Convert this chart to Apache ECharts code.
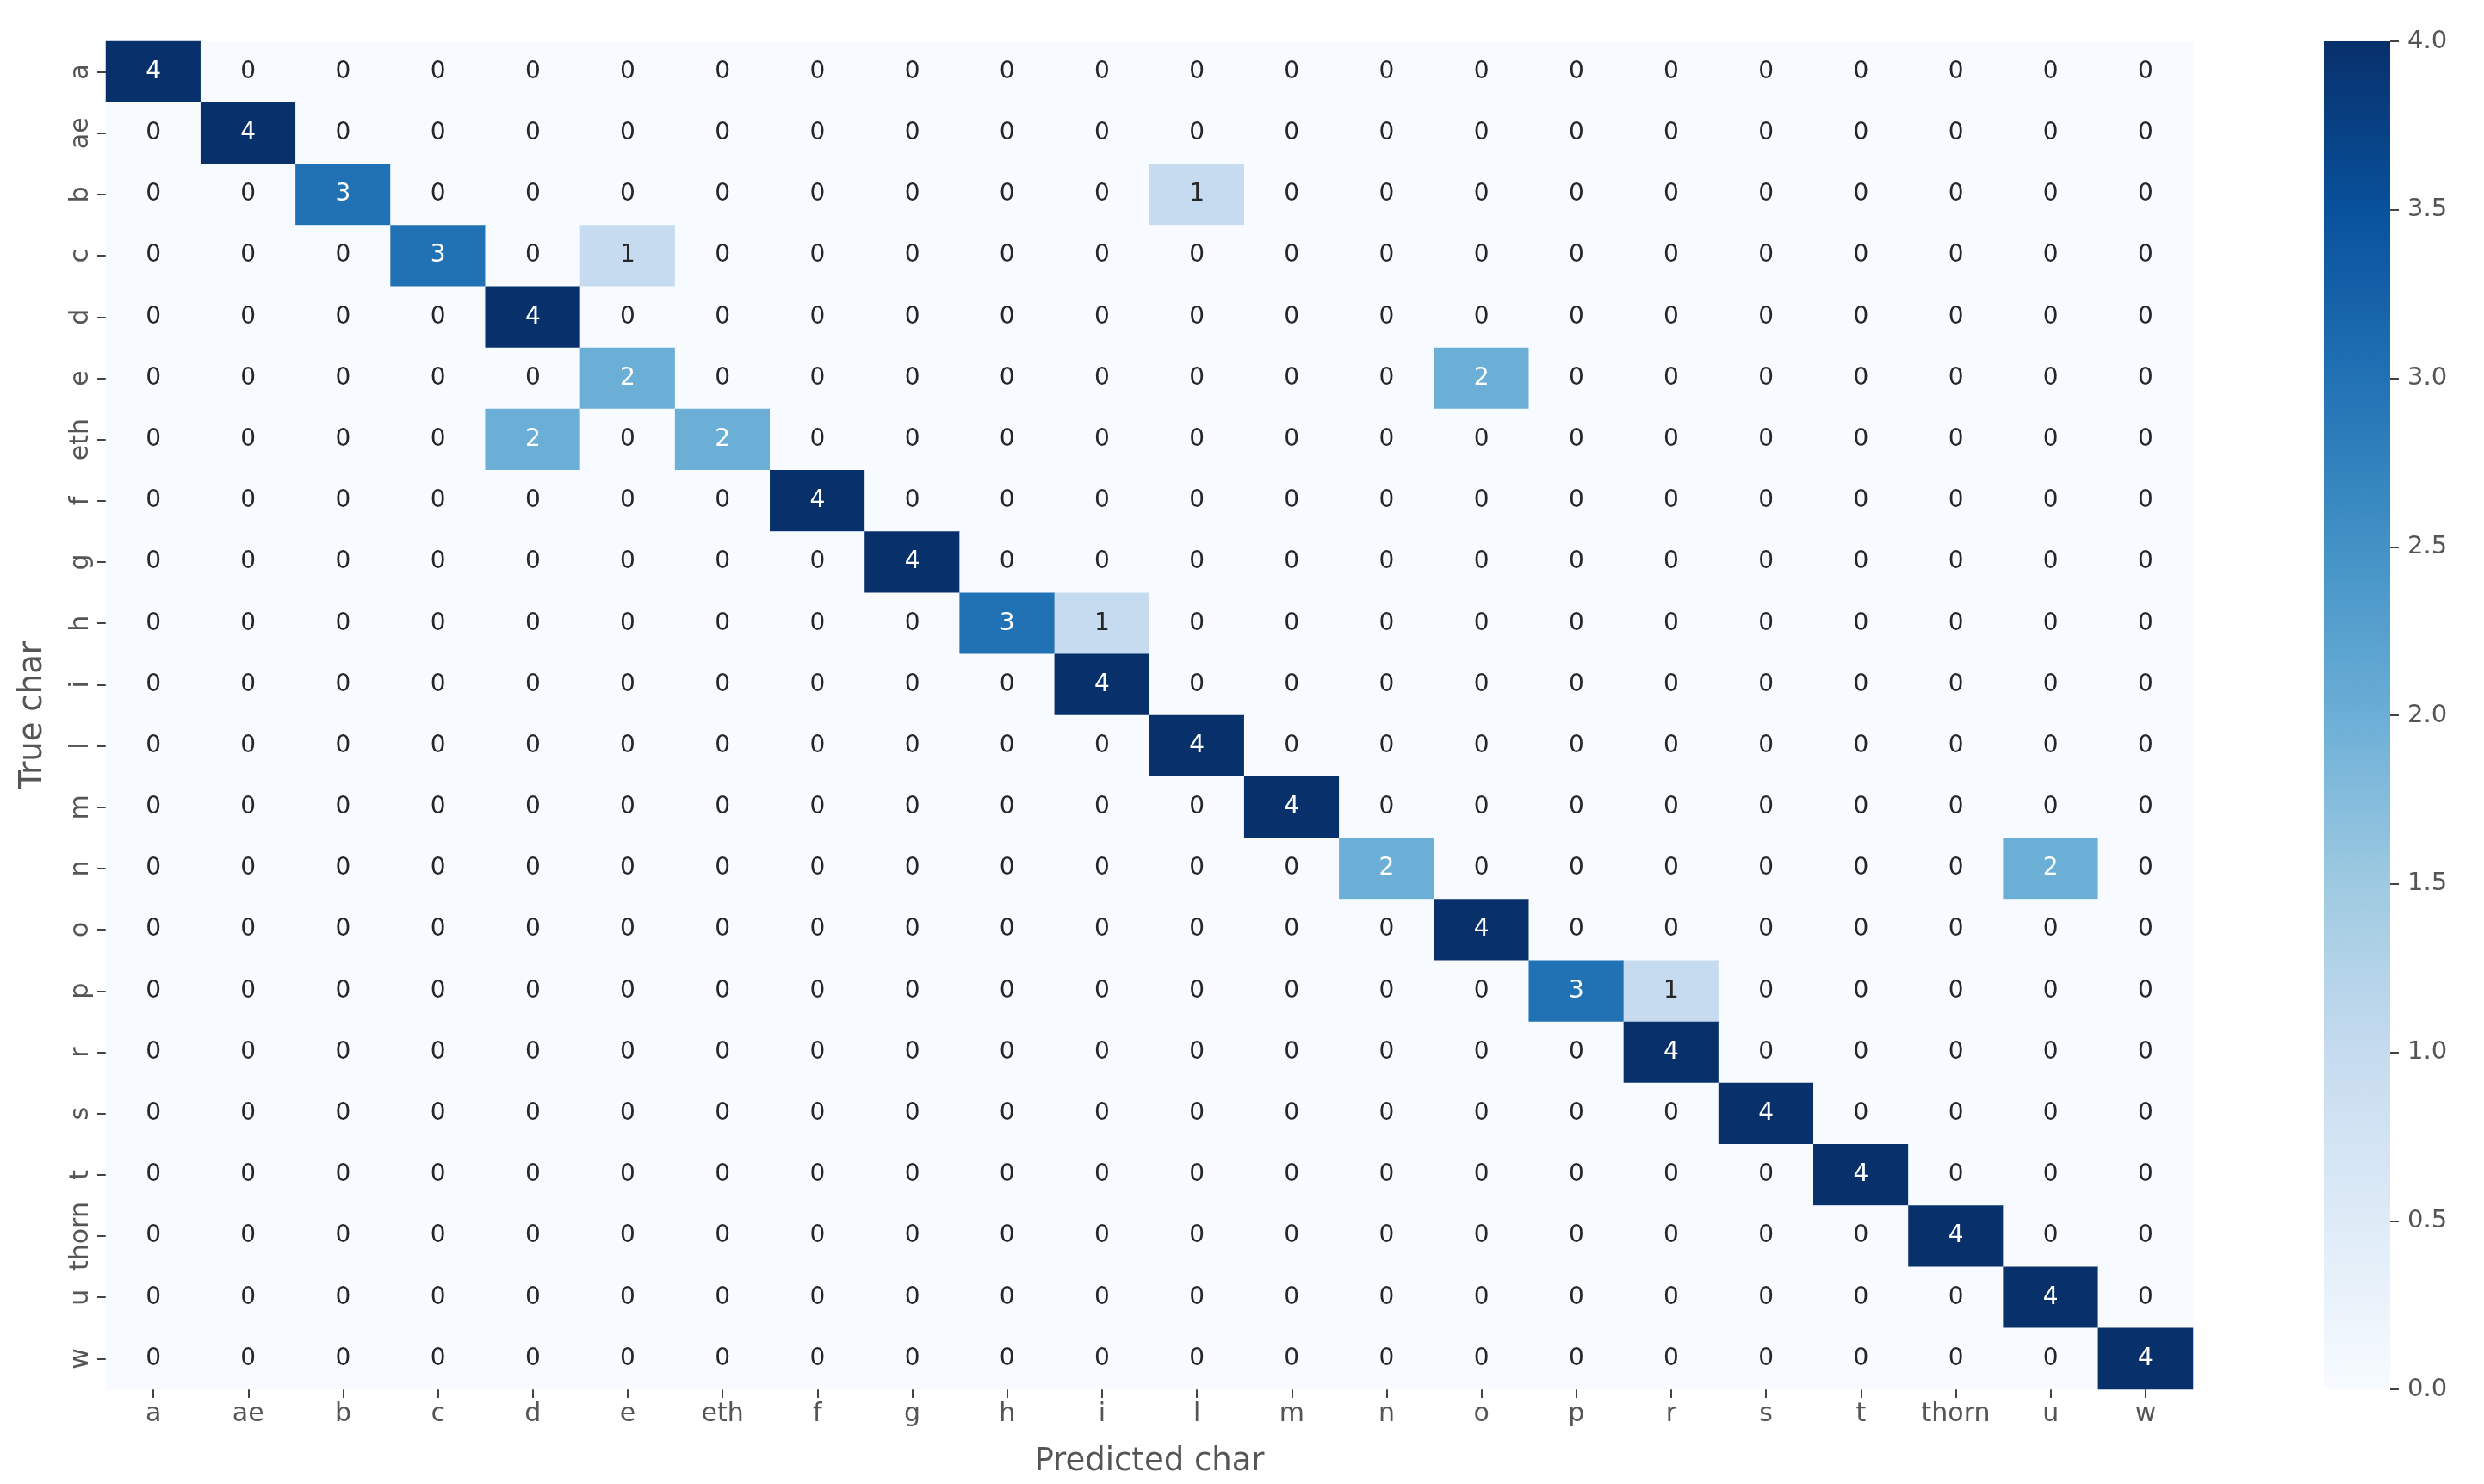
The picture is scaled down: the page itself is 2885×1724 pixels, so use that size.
<!DOCTYPE html>
<html>
<head>
<meta charset="utf-8">
<script src="https://cdn.jsdelivr.net/npm/echarts@6/dist/echarts.min.js"></script>
<style>
  html, body { margin: 0; padding: 0; background: #fff; }
  #chart { width: 2885px; height: 1724px; }
</style>
</head>
<body>
<div id="chart"></div>
<script>
  // character classes (same order for true and predicted)
  var chars = ['a', 'ae', 'b', 'c', 'd', 'e', 'eth', 'f', 'g', 'h', 'i', 'l',
               'm', 'n', 'o', 'p', 'r', 's', 't', 'thorn', 'u', 'w'];

  // confusion counts: row = true char, column = predicted char
  var counts = [
    [4,0,0,0,0,0,0,0,0,0,0,0,0,0,0,0,0,0,0,0,0,0], // a
    [0,4,0,0,0,0,0,0,0,0,0,0,0,0,0,0,0,0,0,0,0,0], // ae
    [0,0,3,0,0,0,0,0,0,0,0,1,0,0,0,0,0,0,0,0,0,0], // b
    [0,0,0,3,0,1,0,0,0,0,0,0,0,0,0,0,0,0,0,0,0,0], // c
    [0,0,0,0,4,0,0,0,0,0,0,0,0,0,0,0,0,0,0,0,0,0], // d
    [0,0,0,0,0,2,0,0,0,0,0,0,0,0,2,0,0,0,0,0,0,0], // e
    [0,0,0,0,2,0,2,0,0,0,0,0,0,0,0,0,0,0,0,0,0,0], // eth
    [0,0,0,0,0,0,0,4,0,0,0,0,0,0,0,0,0,0,0,0,0,0], // f
    [0,0,0,0,0,0,0,0,4,0,0,0,0,0,0,0,0,0,0,0,0,0], // g
    [0,0,0,0,0,0,0,0,0,3,1,0,0,0,0,0,0,0,0,0,0,0], // h
    [0,0,0,0,0,0,0,0,0,0,4,0,0,0,0,0,0,0,0,0,0,0], // i
    [0,0,0,0,0,0,0,0,0,0,0,4,0,0,0,0,0,0,0,0,0,0], // l
    [0,0,0,0,0,0,0,0,0,0,0,0,4,0,0,0,0,0,0,0,0,0], // m
    [0,0,0,0,0,0,0,0,0,0,0,0,0,2,0,0,0,0,0,0,2,0], // n
    [0,0,0,0,0,0,0,0,0,0,0,0,0,0,4,0,0,0,0,0,0,0], // o
    [0,0,0,0,0,0,0,0,0,0,0,0,0,0,0,3,1,0,0,0,0,0], // p
    [0,0,0,0,0,0,0,0,0,0,0,0,0,0,0,0,4,0,0,0,0,0], // r
    [0,0,0,0,0,0,0,0,0,0,0,0,0,0,0,0,0,4,0,0,0,0], // s
    [0,0,0,0,0,0,0,0,0,0,0,0,0,0,0,0,0,0,4,0,0,0], // t
    [0,0,0,0,0,0,0,0,0,0,0,0,0,0,0,0,0,0,0,4,0,0], // thorn
    [0,0,0,0,0,0,0,0,0,0,0,0,0,0,0,0,0,0,0,0,4,0], // u
    [0,0,0,0,0,0,0,0,0,0,0,0,0,0,0,0,0,0,0,0,0,4]  // w
  ];

  var colorbarMax = [4];

  // matplotlib "Blues"
  var blues = ['#f7fbff', '#deebf7', '#c6dbef', '#9ecae1', '#6baed6',
               '#4292c6', '#2171b5', '#08519c', '#08306b'];

  var font = 'DejaVu Sans';
  var axisGray = '#555555';

  var cells = [];
  counts.forEach(function (row, r) {
    row.forEach(function (v, c) {
      cells.push({
        value: [c, r, v],
        label: { color: v >= 2 ? '#ffffff' : '#262626' }
      });
    });
  });

  var chart = echarts.init(document.getElementById('chart'));

  var option = {
    backgroundColor: '#ffffff',
    animation: false,
    grid: [
      { left: 123, right: 338, top: 48, bottom: 110 },          // heatmap
      { left: 2699, width: 77, top: 48, bottom: 110 }           // colorbar
    ],
    xAxis: [
      {
        type: 'category',
        gridIndex: 0,
        data: chars,
        position: 'bottom',
        name: 'Predicted char',
        nameLocation: 'middle',
        nameGap: 66,
        nameTextStyle: { fontFamily: font, fontSize: 37, color: axisGray },
        axisLine: { show: false },
        axisTick: { show: true, alignWithLabel: true, length: 10, lineStyle: { color: '#444', width: 2 } },
        axisLabel: { interval: 0, fontFamily: font, fontSize: 30, color: axisGray, margin: 14 },
        splitLine: { show: false },
        splitArea: { show: false }
      },
      {
        type: 'category',
        gridIndex: 1,
        data: [''],
        show: false
      }
    ],
    yAxis: [
      {
        type: 'category',
        gridIndex: 0,
        data: chars,
        inverse: true,
        name: 'True char',
        nameLocation: 'middle',
        nameGap: 66,
        nameRotate: 90,
        nameTextStyle: { fontFamily: font, fontSize: 37, color: axisGray },
        axisLine: { show: false },
        axisTick: { show: true, alignWithLabel: true, length: 10, lineStyle: { color: '#444', width: 2 } },
        axisLabel: { interval: 0, hideOverlap: false, fontFamily: font, fontSize: 30, color: axisGray, rotate: 90, margin: 14 },
        splitLine: { show: false },
        splitArea: { show: false }
      },
      {
        type: 'value',
        gridIndex: 1,
        position: 'right',
        min: 0,
        max: 4,
        interval: 0.5,
        axisLine: { show: false },
        axisTick: { show: true, length: 10, lineStyle: { color: '#444', width: 2 } },
        axisLabel: {
          fontFamily: font, fontSize: 29, color: axisGray, margin: 20,
          formatter: function (v) { return v.toFixed(1); }
        },
        splitLine: { show: false }
      }
    ],
    visualMap: {
      show: false,
      type: 'continuous',
      seriesIndex: 0,
      min: 0,
      max: 4,
      inRange: { color: blues }
    },
    series: [
      {
        type: 'heatmap',
        xAxisIndex: 0,
        yAxisIndex: 0,
        data: cells,
        label: { show: true, fontFamily: font, fontSize: 28 },
        itemStyle: { borderWidth: 0 },
        emphasis: { disabled: true }
      },
      {
        type: 'bar',
        xAxisIndex: 1,
        yAxisIndex: 1,
        data: colorbarMax,
        barWidth: '100%',
        silent: true,
        itemStyle: {
          color: new echarts.graphic.LinearGradient(0, 1, 0, 0,
            blues.map(function (c, i) { return { offset: i / (blues.length - 1), color: c }; }))
        }
      }
    ]
  };

  chart.setOption(option);
  window.onresize = chart.resize;
</script>
</body>
</html>
